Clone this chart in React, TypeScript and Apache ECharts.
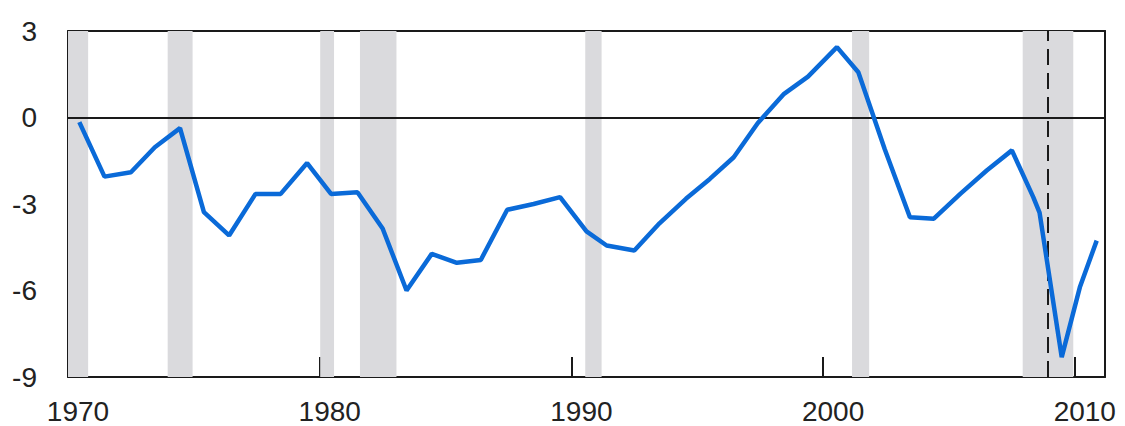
import React, { useEffect, useRef } from "react";
import * as echarts from "echarts";

// x positions (fractional years) and values (% of GDP)
const years = [
  1970.45, 1971.45, 1972.5, 1973.45, 1974.45, 1975.4, 1976.4, 1977.45, 1978.45, 1979.5,
  1980.45, 1981.5, 1982.5, 1983.45, 1984.45, 1985.45, 1986.4, 1987.45, 1988.5, 1989.55,
  1990.6, 1991.4, 1992.5, 1993.5, 1994.55, 1995.5, 1996.45, 1997.4, 1998.45, 1999.4,
  2000.55, 2001.4, 2002.45, 2003.45, 2004.4, 2005.45, 2006.5, 2007.5, 2008.35, 2008.6,
  2009.48, 2010.2, 2010.87,
];
const values = [
  -0.16, -2.05, -1.9, -1.03, -0.37, -3.28, -4.09, -2.65, -2.65, -1.58,
  -2.65, -2.59, -3.85, -6.0, -4.73, -5.04, -4.94, -3.2, -3.0, -2.76,
  -3.95, -4.44, -4.61, -3.67, -2.82, -2.13, -1.38, -0.2, 0.82, 1.42,
  2.44, 1.57, -1.1, -3.46, -3.51, -2.65, -1.84, -1.14, -2.76, -3.3,
  -8.31, -5.89, -4.27,
];
const recessionStart = [1970.0, 1973.96, 1980.02, 1981.6, 1990.55, 2001.15, 2007.93];
const recessionEnd = [1970.8, 1974.95, 1980.57, 1983.05, 1991.2, 2001.83, 2009.94];
const markerYear = 2008.94;
const yTicks = [-9, -6, -3, 0, 3];
const xTicks = [1970, 1980, 1990, 2000, 2010];

export default function App() {
  const ref = useRef<HTMLDivElement>(null);
  useEffect(() => {
    if (!ref.current) return;
    const chart = echarts.init(ref.current, null, { renderer: "svg" });
    const font = "'Liberation Sans', Arial, sans-serif";
    const xMin = xTicks[0];
    const xMax = 2011.2;
    const yMin = yTicks[0];
    const yMax = yTicks[yTicks.length - 1];
    const lineCol = "#1a1a1a";
    chart.setOption({
      animation: false,
      grid: { left: 68, top: 31, right: 20, bottom: 49, containLabel: false },
      xAxis: [
        {
          type: "value",
          min: xMin,
          max: xMax,
          interval: 10,
          position: "bottom",
          axisLine: { show: true, onZero: false, lineStyle: { color: lineCol, width: 2 } },
          axisTick: { show: true, inside: true, length: 20, lineStyle: { color: lineCol, width: 2 } },
          axisLabel: {
            show: true,
            fontFamily: font,
            fontSize: 28,
            color: "#222",
            margin: 20,
            padding: [0, 0, 0, 20],
            showMaxLabel: false,
            formatter: (v: number) => String(v),
          },
          splitLine: { show: false },
        },
        {
          type: "value",
          min: xMin,
          max: xMax,
          position: "top",
          axisLine: { show: true, onZero: false, lineStyle: { color: lineCol, width: 2 } },
          axisTick: { show: false },
          axisLabel: { show: false },
          splitLine: { show: false },
        },
      ],
      yAxis: [
        {
          type: "value",
          min: yMin,
          max: yMax,
          interval: 3,
          position: "left",
          axisLine: { show: true, onZero: false, lineStyle: { color: lineCol, width: 2 } },
          axisTick: { show: false },
          axisLabel: { fontFamily: font, fontSize: 28, color: "#222", margin: 31 },
          splitLine: { show: false },
        },
        {
          type: "value",
          min: yMin,
          max: yMax,
          interval: 3,
          position: "right",
          axisLine: { show: true, onZero: false, lineStyle: { color: lineCol, width: 2 } },
          axisTick: { show: false },
          axisLabel: { show: false },
          splitLine: { show: false },
        },
      ],
      series: [
        {
          type: "line",
          xAxisIndex: 0,
          yAxisIndex: 0,
          data: years.map((y, i) => [y, values[i]]),
          showSymbol: false,
          symbol: "none",
          lineStyle: { color: "#0a6ad8", width: 4.5 },
          z: 5,
          markArea: {
            silent: true,
            itemStyle: { color: "#dadadd" },
            data: recessionStart.map((s, i) => [{ xAxis: s }, { xAxis: recessionEnd[i] }]),
            z: 1,
          },
          markLine: {
            silent: true,
            symbol: "none",
            label: { show: false },
            data: [
              { yAxis: 0, lineStyle: { color: lineCol, width: 2, type: "solid" } },
              { xAxis: markerYear, lineStyle: { color: lineCol, width: 2, type: [16, 8] } },
            ],
          },
        },
      ],
    });
    return () => chart.dispose();
  }, []);
  return (
    <div
      ref={ref}
      style={{ position: "fixed", left: 0, top: 0, width: 1125, height: 426, background: "#fff" }}
    />
  );
}
